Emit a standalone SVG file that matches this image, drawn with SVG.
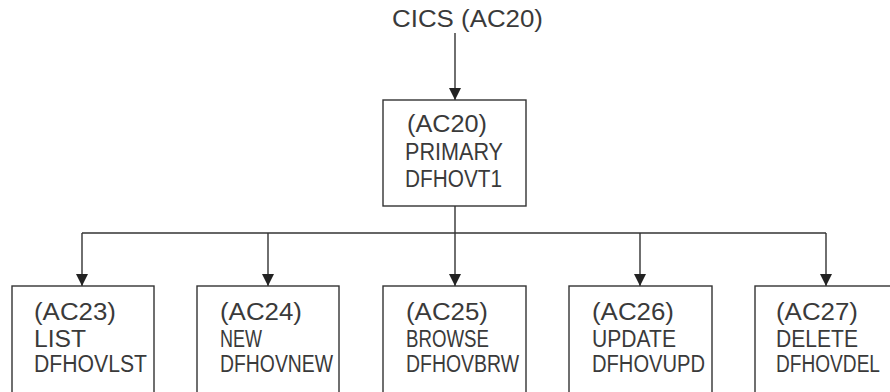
<svg xmlns="http://www.w3.org/2000/svg" width="890" height="392" viewBox="0 0 890 392">
<defs>
<style>
.box{fill:#fff;stroke:#333;stroke-width:1.4}
.t{font-family:"Liberation Sans","DejaVu Sans",sans-serif;font-size:23px;fill:#3a3a3a}
.ln{fill:none;stroke:#333;stroke-width:1.4}
</style>
<marker id="ah" markerWidth="12" markerHeight="12" viewBox="0 0 12 12" refX="12" refY="6" orient="auto" markerUnits="userSpaceOnUse">
<path d="M0,0 L12,6 L0,12 Z" fill="#222"/>
</marker>
</defs>
<rect width="890" height="392" fill="#fff"/>
<g id="connectors">
<line class="ln" x1="455" y1="33" x2="455" y2="100" marker-end="url(#ah)"/>
<line class="ln" x1="455" y1="206" x2="455" y2="286" marker-end="url(#ah)"/>
<line class="ln" x1="82" y1="233" x2="826" y2="233"/>
<line class="ln" x1="82" y1="233" x2="82" y2="286" marker-end="url(#ah)"/>
<line class="ln" x1="268" y1="233" x2="268" y2="286" marker-end="url(#ah)"/>
<line class="ln" x1="640" y1="233" x2="640" y2="286" marker-end="url(#ah)"/>
<line class="ln" x1="826" y1="233" x2="826" y2="286" marker-end="url(#ah)"/>
</g>
<g id="cics"><text class="t" x="392" y="27" textLength="151" lengthAdjust="spacingAndGlyphs">CICS (AC20)</text></g>
<g id="primary">
<rect class="box" x="383" y="100" width="143" height="106"/>
<text class="t" x="407" y="132" textLength="80" lengthAdjust="spacingAndGlyphs">(AC20)</text>
<text class="t" x="405" y="160" textLength="98" lengthAdjust="spacingAndGlyphs">PRIMARY</text>
<text class="t" x="405" y="187" textLength="97" lengthAdjust="spacingAndGlyphs">DFHOVT1</text>
</g>
<g id="list">
<rect class="box" x="12" y="286" width="142" height="120"/>
<text class="t" x="34" y="320" textLength="82" lengthAdjust="spacingAndGlyphs">(AC23)</text>
<text class="t" x="34" y="347" textLength="52" lengthAdjust="spacingAndGlyphs">LIST</text>
<text class="t" x="34" y="372" textLength="113" lengthAdjust="spacingAndGlyphs">DFHOVLST</text>
</g>
<g id="new">
<rect class="box" x="197" y="286" width="142" height="120"/>
<text class="t" x="220" y="320" textLength="82" lengthAdjust="spacingAndGlyphs">(AC24)</text>
<text class="t" x="220" y="347" textLength="42" lengthAdjust="spacingAndGlyphs">NEW</text>
<text class="t" x="220" y="372" textLength="113" lengthAdjust="spacingAndGlyphs">DFHOVNEW</text>
</g>
<g id="browse">
<rect class="box" x="383" y="286" width="143" height="120"/>
<text class="t" x="406" y="320" textLength="82" lengthAdjust="spacingAndGlyphs">(AC25)</text>
<text class="t" x="406" y="347" textLength="83" lengthAdjust="spacingAndGlyphs">BROWSE</text>
<text class="t" x="406" y="372" textLength="113" lengthAdjust="spacingAndGlyphs">DFHOVBRW</text>
</g>
<g id="update">
<rect class="box" x="569" y="286" width="143" height="120"/>
<text class="t" x="592" y="320" textLength="82" lengthAdjust="spacingAndGlyphs">(AC26)</text>
<text class="t" x="592" y="347" textLength="84" lengthAdjust="spacingAndGlyphs">UPDATE</text>
<text class="t" x="592" y="372" textLength="113" lengthAdjust="spacingAndGlyphs">DFHOVUPD</text>
</g>
<g id="delete">
<rect class="box" x="755" y="286" width="143" height="120"/>
<text class="t" x="776" y="320" textLength="82" lengthAdjust="spacingAndGlyphs">(AC27)</text>
<text class="t" x="776" y="347" textLength="82" lengthAdjust="spacingAndGlyphs">DELETE</text>
<text class="t" x="776" y="372" textLength="104" lengthAdjust="spacingAndGlyphs">DFHOVDEL</text>
</g>
</svg>
